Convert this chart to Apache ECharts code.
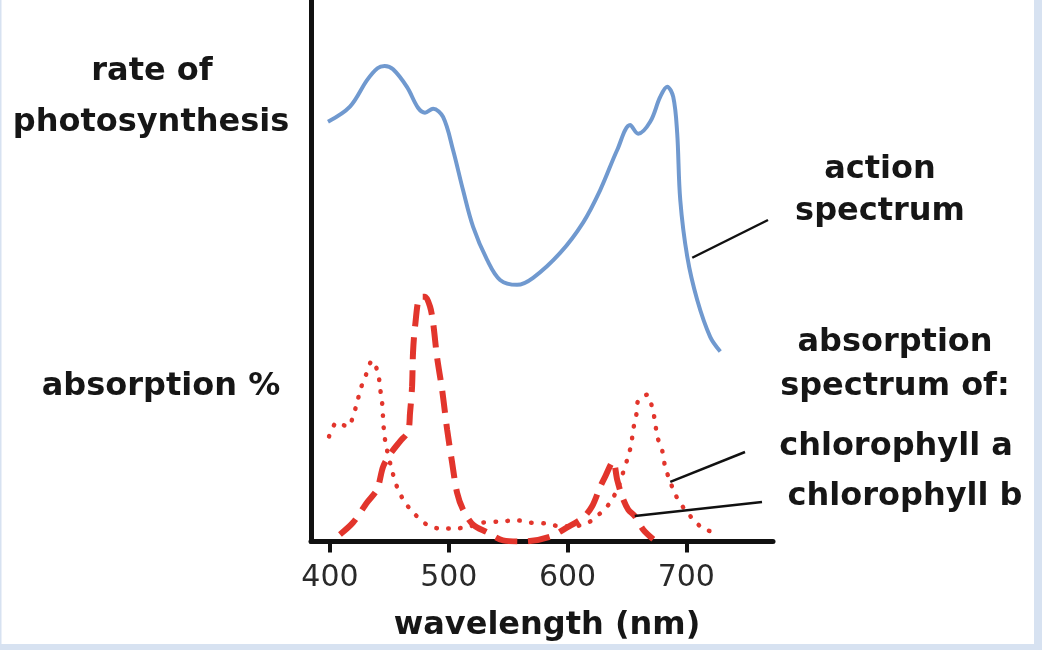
<!DOCTYPE html>
<html><head><meta charset="utf-8">
<script src="https://cdn.jsdelivr.net/npm/echarts@6/dist/echarts.min.js"></script>
<style>html,body{margin:0;padding:0;background:#fff}#c{width:1042px;height:650px}</style>
</head><body><div id="c"></div>
<script>
// x-axis tick labels (wavelength, nm)
const wavelengthTicks = [400, 500, 600, 700];
// action spectrum: [wavelength nm, relative rate]
const actionSpectrum = [
  [398.3,77.5],[416.8,80.3],[431.2,85.2],[440,87.4],[446,87.8],[453.1,87.2],[464.9,83.9],
  [474.1,80.1],[480.0,79.2],[486.8,79.9],[495.2,78.4],[503.6,72.3],[512.0,64.9],
  [520.5,58.1],[532.3,52.0],[543.2,48.3],[557.5,47.4],[571.0,48.7],[593.8,53.3],
  [613.1,58.9],[627.5,64.9],[641.8,72.3],[652.7,76.9],[659.5,75.3],[669.6,77.5],
  [678.0,82.1],[683.9,84.0],[689.0,82.1],[692.3,75.5],[694.9,63.1],[700.8,52.6],
  [709.2,44.6],[720.1,37.8],[728.6,35.1]
];
// chlorophyll a absorption (dotted): [wavelength nm, absorption]
const chlorophyllA = [
  [399.2,19.4],[405.9,22.0],[415.2,21.2],[419.4,23.1],[422.7,25.6],[426.1,28.4],
  [430.3,30.8],[435.4,33.4],[440.4,31.2],[442.1,28.4],[443.8,25.8],[444.6,23.1],
  [445.5,20.3],[447.2,17.7],[453.1,12.4],[457.3,9.6],[463.2,7.2],[471.6,5.0],
  [481.7,3.1],[492.7,2.4],[505.3,2.4],[517.9,2.8],[528.9,3.5],[543.2,3.7],
  [557.5,3.9],[568.5,3.5],[582.8,3.3],[593.8,2.8],[604.7,2.8],[617.4,3.5],
  [627.5,5.2],[635.9,7.2],[642.6,10.0],[646.0,12.2],[650.2,15.1],[653.6,17.9],
  [655.3,20.7],[657.8,23.2],[659.5,26.0],[667.1,27.1],[671.3,24.7],[673.8,22.0],
  [675.5,19.4],[679.7,16.8],[682.2,13.8],[686.4,11.1],[690.7,8.7],[697.4,6.3],
  [705.8,4.1],[714.2,2.4],[726.9,1.5]
];
// chlorophyll b absorption (dashed): [wavelength nm, absorption]
const chlorophyllB = [
  [408.4,1.3],[419.4,3.5],[431.2,7.2],[439.6,9.6],[444.7,13.8],[450.5,16.1],
  [459.0,18.5],[465.7,20.3],[467.4,23.8],[469.1,28.6],[469.9,34.9],[471.6,39.7],
  [475.8,45.2],[480.0,45.2],[484.2,43.4],[486.8,40.4],[490.1,34.1],[494.4,28.0],
  [498.6,20.7],[502.8,14.6],[507.0,9.0],[512.0,5.9],[520.5,3.1],[532.3,1.7],
  [545.7,0.2],[563.4,0],[585.3,0.9],[599.7,2.6],[613.1,4.4],[620.7,6.5],
  [627.5,10.1],[631.7,12.0],[638.4,14.8],[641.8,11.4],[646.0,8.3],[651.1,5.9],
  [657.0,4.6],[663.7,2.2],[672.2,0.4]
];
// annotation anchors on the curves: [wavelength nm, value]
const actionAnchor = [705, 52.4];
const chlAAnchor = [686.5, 11];
const chlBAnchor = [656.6, 4.7];
const labels = {
  yTop: ['rate of', 'photosynthesis'],
  yBottom: 'absorption %',
  action: ['action', 'spectrum'],
  absorption: ['absorption', 'spectrum of:'],
  chlA: 'chlorophyll a',
  chlB: 'chlorophyll b',
  xName: 'wavelength (nm)'
};

const RED = '#e2352c', BLUE = '#7099cf', INK = '#161616';
const chart = echarts.init(document.getElementById('c'), null, {renderer: 'canvas'});
chart.setOption({
  backgroundColor: '#ffffff',
  animation: false,
  grid: {left: 311, right: 269, top: 0, bottom: 108.5, containLabel: false},
  xAxis: {
    type: 'value', min: 384, max: 773,
    splitLine: {show: false},
    axisLine: {show: true, onZero: false, lineStyle: {color: '#111', width: 5}},
    axisTick: {show: true, customValues: wavelengthTicks, length: 11, lineStyle: {color: '#111', width: 4}},
    axisLabel: {customValues: wavelengthTicks, margin: 22, color: '#2a2a2a',
      fontFamily: 'DejaVu Sans', fontSize: 30},
    name: labels.xName, nameLocation: 'middle', nameGap: 68,
    nameTextStyle: {fontFamily: 'DejaVu Sans', fontWeight: 'bold', fontSize: 32, color: INK, padding: [0, 0, 0, 10]}
  },
  yAxis: {
    type: 'value', min: 0, max: 100,
    splitLine: {show: false},
    axisLine: {show: true, lineStyle: {color: '#111', width: 5}},
    axisTick: {show: false}, axisLabel: {show: false}
  },
  series: [
    {type: 'line', data: actionSpectrum, showSymbol: false, smooth: 0.35, z: 3,
      lineStyle: {color: BLUE, width: 4}},
    {type: 'line', data: chlorophyllA, showSymbol: false, smooth: 0.3, z: 4,
      lineStyle: {color: RED, width: 4.5, type: [0.5, 11.5], cap: 'round'}},
    {type: 'line', data: chlorophyllB, showSymbol: false, smooth: 0.3, z: 4,
      lineStyle: {color: RED, width: 6, type: [22, 11], cap: 'butt'}}
  ]
});

const P = v => chart.convertToPixel({gridIndex: 0}, v);
const font = 'bold 32px "DejaVu Sans"';
function txt(t, x, y) {
  return {type: 'text', x: x, y: y, z: 10,
    style: {text: t, font: font, fill: INK, align: 'center', verticalAlign: 'middle'}};
}
function leader(a, x2, y2) {
  return {type: 'line', z: 10, shape: {x1: a[0], y1: a[1], x2: x2, y2: y2},
    style: {stroke: '#111', lineWidth: 2.5}};
}
const aA = P(actionAnchor), aCa = P(chlAAnchor), aCb = P(chlBAnchor);
chart.setOption({
  graphic: [
    {type: 'rect', z: 0, shape: {x: 0, y: 0, width: 1.5, height: 650}, style: {fill: '#d7e2f1'}},
    {type: 'rect', z: 0, shape: {x: 1034, y: 0, width: 8, height: 650}, style: {fill: '#d7e2f1'}},
    {type: 'rect', z: 0, shape: {x: 0, y: 644, width: 1042, height: 6}, style: {fill: '#d7e2f1'}},
    txt(labels.yTop[0], 152, 72),
    txt(labels.yTop[1], 151, 123),
    txt(labels.yBottom, 161, 387),
    txt(labels.action[0], 880, 170),
    txt(labels.action[1], 880, 212),
    txt(labels.absorption[0], 895, 343),
    txt(labels.absorption[1], 895, 387),
    txt(labels.chlA, 896, 447),
    txt(labels.chlB, 905, 497),
    leader(aA, 768, 220),
    leader(aCa, 745, 452),
    leader(aCb, 762, 502)
  ]
});
</script></body></html>
